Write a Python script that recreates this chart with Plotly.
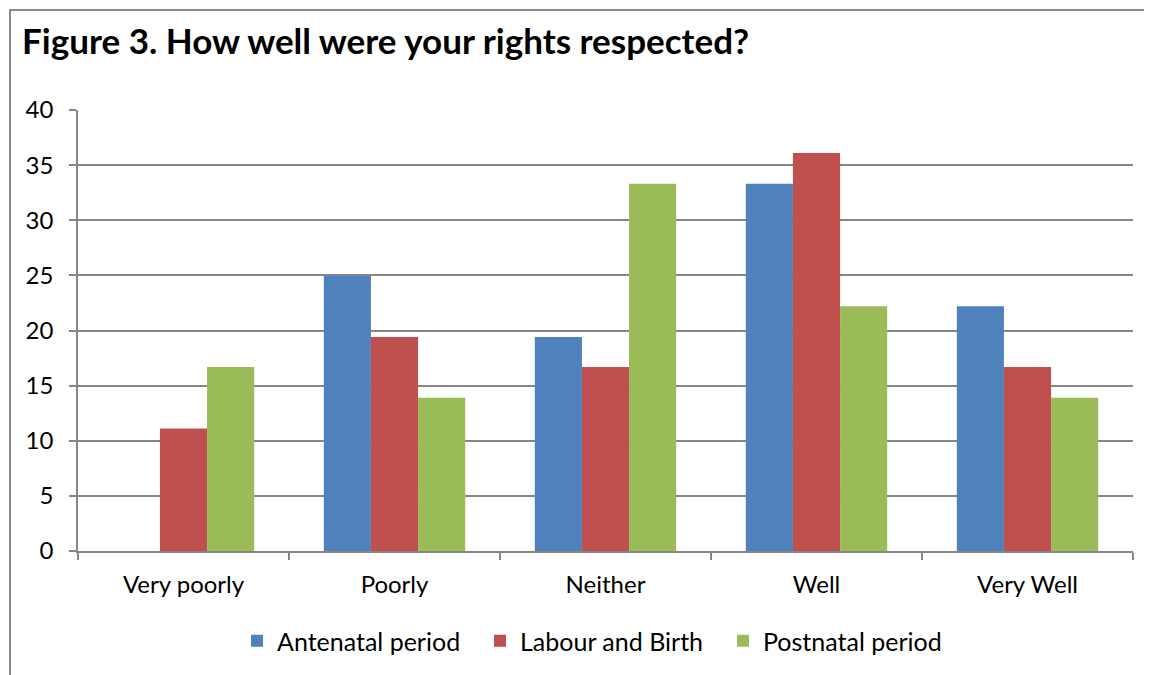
import plotly.graph_objects as go

categories = ["Very poorly", "Poorly", "Neither", "Well", "Very Well"]
antenatal = [0, 25.0, 19.4, 33.3, 22.2]
labour = [11.1, 19.4, 16.7, 36.1, 16.7]
postnatal = [16.7, 13.9, 33.3, 22.2, 13.9]
series_names = ["Antenatal period", "Labour and Birth", "Postnatal period"]
colors = ["#4F81BD", "#C0504D", "#9BBB59"]
y_ticks = [0, 5, 10, 15, 20, 25, 30, 35, 40]

FONT = "Lato"
fig = go.Figure()
for name, vals, c in zip(series_names, [antenatal, labour, postnatal], colors):
    fig.add_trace(go.Bar(x=categories, y=vals, name=name, marker_color=c,
                         marker_line_width=0))

W, H = 1152, 675
OFF = 8  # page body margin
# desired screen positions of plot area
SX0, SX1, SY0, SY1 = 78, 1133, 110, 551
L = SX0 - OFF
T = SY0 - OFF
R = W + OFF - SX1
B = H + OFF - SY1
pw, ph = W - L - R, H - T - B

def px_x(sx):
    return (sx - SX0) / pw

def px_y(sy):
    return (SY1 - sy) / ph

fig.update_layout(
    width=W, height=H,
    margin=dict(l=L, r=R, t=T, b=B),
    paper_bgcolor="white", plot_bgcolor="white",
    barmode="group", bargap=0.33, bargroupgap=0,
    font=dict(family=FONT, size=24, color="#000000"),
    title=dict(text="<b>Figure 3. How well were your rights respected?</b>",
               x=(22 - OFF) / W, xref="container", xanchor="left",
               y=1 - (42 - OFF) / H, yref="container", yanchor="middle",
               font=dict(family=FONT, size=35, color="#000000")),
    legend=dict(orientation="h", x=0.5 - 4 / pw, xanchor="center",
                y=px_y(641), yanchor="middle",
                entrywidth=198, entrywidthmode="pixels",
                font=dict(family=FONT, size=25), traceorder="normal"),
    xaxis=dict(showgrid=False, showline=True, linecolor="#868686", linewidth=1.5,
               ticks="outside", tickson="boundaries", ticklen=7,
               tickcolor="#868686", tickwidth=1.5, ticklabelstandoff=11),
    yaxis=dict(range=[0, 40], tickvals=y_ticks, showgrid=True,
               gridcolor="#868686", gridwidth=1.5, showline=True,
               linecolor="#868686", linewidth=1.5, ticks="outside",
               ticklen=7, tickcolor="#868686", tickwidth=1.5,
               ticklabelstandoff=11, zeroline=False),
    shapes=[dict(type="rect", xref="paper", yref="paper",
                 x0=px_x(10), x1=px_x(W + 30), y0=px_y(H + 30), y1=px_y(10),
                 line=dict(color="#898989", width=2), layer="below")],
)

fig.write_html("out.html")
